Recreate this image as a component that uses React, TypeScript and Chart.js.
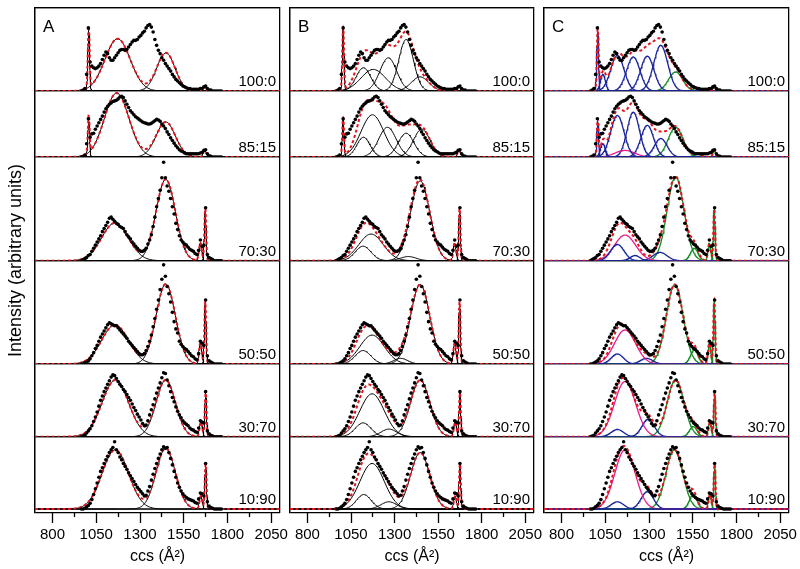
import React, { useEffect, useRef } from 'react';
import { Chart, registerables } from 'chart.js';
Chart.register(...registerables);

const FONT = "'Liberation Sans', Arial, Helvetica, sans-serif";

// ccs sampling positions of measured points (Å²)
const ccsGrid = [
  965, 975, 985, 995, 1005, 1015, 1025, 1035, 1045, 1055,
  1065, 1075, 1085, 1095, 1105, 1115, 1125, 1135, 1145, 1155,
  1165, 1175, 1185, 1195, 1205, 1215, 1225, 1235, 1245, 1255,
  1265, 1275, 1285, 1295, 1305, 1315, 1325, 1335, 1345, 1355,
  1365, 1375, 1385, 1395, 1405, 1415, 1425, 1435, 1445, 1455,
  1465, 1475, 1485, 1495, 1505, 1515, 1525, 1535, 1545, 1555,
  1565, 1575, 1585, 1595, 1605, 1615, 1625, 1635, 1645, 1655,
  1665, 1675, 1685, 1695, 1705, 1715, 1725, 1735, 1745, 1755,
  1765,
];

// measured intensities (fraction of each sub-panel's height)
const dots100_0 = [
  0, 0.01, 0.03, 0.2, 0.76, 0.35, 0.3, 0.28, 0.27, 0.28,
  0.3, 0.33, 0.38, 0.43, 0.47, 0.45, 0.4, 0.37, 0.37, 0.4,
  0.43, 0.46, 0.49, 0.5, 0.5, 0.49, 0.5, 0.53, 0.56, 0.59,
  0.61, 0.61, 0.62, 0.65, 0.67, 0.7, 0.72, 0.76, 0.79, 0.8,
  0.77, 0.71, 0.62, 0.55, 0.49, 0.45, 0.4, 0.37, 0.33, 0.3,
  0.27, 0.24, 0.2, 0.17, 0.14, 0.12, 0.1, 0.08, 0.06, 0.05,
  0.04, 0.03, 0.03, 0.02, 0.02, 0.02, 0.02, 0.02, 0.03, 0.03,
  0.05, 0.06, 0.03, 0.01, 0.01, 0, 0, 0, 0, 0,
  0,
];
const dots85_15 = [
  0, 0.01, 0.03, 0.2, 0.58, 0.3, 0.35, 0.36, 0.42, 0.47,
  0.52, 0.57, 0.62, 0.68, 0.73, 0.77, 0.8, 0.82, 0.84, 0.85,
  0.86, 0.88, 0.91, 0.92, 0.9, 0.85, 0.8, 0.75, 0.7, 0.67,
  0.64, 0.61, 0.59, 0.57, 0.55, 0.53, 0.52, 0.51, 0.5, 0.5,
  0.51, 0.53, 0.55, 0.57, 0.56, 0.54, 0.5, 0.47, 0.43, 0.38,
  0.34, 0.29, 0.25, 0.21, 0.17, 0.14, 0.11, 0.09, 0.08, 0.06,
  0.05, 0.05, 0.05, 0.05, 0.05, 0.05, 0.05, 0.05, 0.06, 0.07,
  0.1, 0.11, 0.05, 0.02, 0.01, 0, 0, 0, 0, 0,
  0,
];
const dots70_30 = [
  0, 0.01, 0.02, 0.03, 0.05, 0.06, 0.09, 0.12, 0.15, 0.18,
  0.21, 0.24, 0.28, 0.31, 0.34, 0.37, 0.41, 0.42, 0.4, 0.38,
  0.36, 0.35, 0.33, 0.32, 0.31, 0.28, 0.25, 0.23, 0.21, 0.18,
  0.16, 0.14, 0.12, 0.1, 0.09, 0.09, 0.1, 0.12, 0.16, 0.2,
  0.25, 0.33, 0.42, 0.52, 0.6, 0.68, 0.8, 0.95, 0.8, 0.72,
  0.67, 0.6, 0.52, 0.45, 0.36, 0.3, 0.24, 0.2, 0.18, 0.16,
  0.15, 0.13, 0.11, 0.1, 0.09, 0.07, 0.06, 0.1, 0.2, 0.14,
  0.15, 0.51, 0.06, 0.03, 0.02, 0.01, 0, 0, 0, 0,
  0,
];
const dots50_50 = [
  0, 0, 0.01, 0.02, 0.03, 0.05, 0.08, 0.11, 0.15, 0.18,
  0.22, 0.26, 0.29, 0.32, 0.35, 0.38, 0.4, 0.39, 0.38, 0.37,
  0.37, 0.35, 0.33, 0.31, 0.29, 0.27, 0.25, 0.22, 0.2, 0.18,
  0.16, 0.14, 0.12, 0.1, 0.09, 0.09, 0.1, 0.13, 0.17, 0.22,
  0.28, 0.36, 0.44, 0.53, 0.62, 0.72, 0.82, 0.96, 0.85, 0.75,
  0.68, 0.6, 0.5, 0.41, 0.34, 0.3, 0.22, 0.19, 0.17, 0.15,
  0.14, 0.12, 0.1, 0.08, 0.07, 0.05, 0.04, 0.1, 0.22, 0.2,
  0.18, 0.62, 0.08, 0.03, 0.02, 0.01, 0, 0, 0, 0,
  0,
];
const dots30_70 = [
  0, 0.01, 0.02, 0.05, 0.08, 0.11, 0.15, 0.21, 0.27, 0.34,
  0.42, 0.5, 0.56, 0.62, 0.67, 0.72, 0.77, 0.82, 0.85, 0.84,
  0.8, 0.76, 0.72, 0.69, 0.65, 0.62, 0.58, 0.54, 0.5, 0.45,
  0.4, 0.36, 0.31, 0.27, 0.23, 0.18, 0.15, 0.16, 0.22, 0.3,
  0.37, 0.44, 0.52, 0.6, 0.67, 0.74, 0.81, 0.88, 0.87, 0.78,
  0.7, 0.62, 0.54, 0.48, 0.41, 0.35, 0.3, 0.26, 0.22, 0.19,
  0.17, 0.15, 0.12, 0.1, 0.09, 0.07, 0.06, 0.12, 0.22, 0.2,
  0.19, 0.62, 0.08, 0.04, 0.02, 0.01, 0, 0, 0, 0,
  0,
];
const dots10_90 = [
  0, 0, 0.01, 0.03, 0.05, 0.08, 0.13, 0.2, 0.28, 0.36,
  0.44, 0.52, 0.57, 0.63, 0.68, 0.73, 0.78, 0.82, 0.85, 0.93,
  0.82, 0.78, 0.72, 0.68, 0.63, 0.59, 0.55, 0.5, 0.46, 0.42,
  0.38, 0.34, 0.3, 0.27, 0.24, 0.21, 0.18, 0.19, 0.25, 0.31,
  0.4, 0.48, 0.56, 0.63, 0.7, 0.76, 0.82, 0.86, 0.84, 0.85,
  0.78, 0.7, 0.61, 0.52, 0.44, 0.36, 0.3, 0.25, 0.21, 0.18,
  0.16, 0.14, 0.13, 0.12, 0.11, 0.09, 0.08, 0.14, 0.22, 0.21,
  0.18, 0.63, 0.1, 0.04, 0.02, 0.01, 0, 0, 0, 0,
  0,
];
const rowDots = [dots100_0, dots85_15, dots70_30, dots50_50, dots30_70, dots10_90];
const rowLabels = ['100:0', '85:15', '70:30', '50:50', '30:70', '10:90'];
const rowWeights = [83, 66, 103.7, 103.3, 72.7, 76.3];
const rowMin = [0, 0, 0, 0, 0, -0.055];

const xMajorTicks = [800, 1050, 1300, 1550, 1800, 2050];
const xMinorTicks = [925, 1175, 1425, 1675, 1925];

// Gaussian fit components: [centre ccs, height, sigma, colour]
type Comp = [number, number, number, string?];

const fitA_100_0: Comp[] = [[1007, 0.74, 5], [1172, 0.63, 72], [1448, 0.46, 52], [1670, 0.05, 8]];
const fitA_85_15: Comp[] = [[1007, 0.57, 5], [1167, 0.97, 70], [1447, 0.53, 55], [1670, 0.1, 9]];
const fitA_70_30: Comp[] = [[1157, 0.365, 76], [1447, 0.785, 55], [1645, 0.17, 8], [1673, 0.5, 5]];
const fitA_50_50: Comp[] = [[1157, 0.38, 76], [1447, 0.775, 55], [1645, 0.2, 8], [1673, 0.6, 5]];
const fitA_30_70: Comp[] = [[1159, 0.78, 75], [1447, 0.78, 55], [1648, 0.2, 8], [1675, 0.6, 5]];
const fitA_10_90: Comp[] = [[1159, 0.82, 75], [1447, 0.84, 55], [1648, 0.18, 8], [1675, 0.62, 5]];

const fitB_100_0: Comp[] = [[1005, 0.74, 5], [1121, 0.28, 42], [1178, 0.26, 70], [1264, 0.4, 48], [1366, 0.62, 42], [1446, 0.17, 50], [1670, 0.05, 8]];
const fitB_85_15: Comp[] = [[1005, 0.57, 5], [1121, 0.3, 38], [1173, 0.64, 65], [1259, 0.45, 50], [1366, 0.36, 45], [1456, 0.42, 48], [1670, 0.1, 9]];
const fitB_70_30: Comp[] = [[1119, 0.14, 45], [1165, 0.257, 70], [1379, 0.04, 45], [1447, 0.77, 55], [1645, 0.17, 8], [1673, 0.5, 5]];
const fitB_50_50: Comp[] = [[1119, 0.13, 45], [1171, 0.28, 70], [1334, 0.055, 40], [1447, 0.77, 55], [1645, 0.2, 8], [1673, 0.6, 5]];
const fitB_30_70: Comp[] = [[1119, 0.19, 45], [1171, 0.59, 70], [1267, 0.105, 45], [1447, 0.78, 55], [1648, 0.2, 8], [1675, 0.6, 5]];
const fitB_10_90: Comp[] = [[1123, 0.2, 42], [1171, 0.63, 70], [1267, 0.1, 45], [1447, 0.78, 55], [1648, 0.18, 8], [1675, 0.62, 5]];

const fitC_100_0: Comp[] = [[1007, 0.72, 5, 'b'], [1037, 0.2, 14, 'b'], [1119, 0.43, 38, 'b'], [1210, 0.41, 38, 'b'], [1290, 0.42, 38, 'b'], [1367, 0.55, 40, 'b'], [1452, 0.23, 40, 'g'], [1572, 0.04, 20, 'g'], [1673, 0.05, 8, 'g']];
const fitC_85_15: Comp[] = [[1007, 0.55, 5, 'b'], [1037, 0.2, 14, 'b'], [1119, 0.63, 38, 'b'], [1162, 0.1, 55, 'm'], [1210, 0.68, 35, 'b'], [1290, 0.48, 36, 'b'], [1367, 0.28, 36, 'b'], [1452, 0.45, 42, 'g'], [1575, 0.05, 20, 'g'], [1673, 0.1, 8, 'g']];
const fitC_70_30: Comp[] = [[1119, 0.157, 38, 'b'], [1163, 0.247, 60, 'm'], [1220, 0.05, 28, 'b'], [1363, 0.08, 40, 'b'], [1452, 0.81, 48, 'g'], [1559, 0.12, 22, 'g'], [1645, 0.17, 8, 'g'], [1673, 0.5, 5, 'g']];
const fitC_50_50: Comp[] = [[1119, 0.097, 35, 'b'], [1163, 0.33, 60, 'm'], [1286, 0.055, 35, 'b'], [1447, 0.77, 48, 'g'], [1559, 0.135, 22, 'g'], [1645, 0.2, 8, 'g'], [1673, 0.62, 5, 'g']];
const fitC_30_70: Comp[] = [[1119, 0.1, 35, 'b'], [1163, 0.76, 60, 'm'], [1295, 0.24, 35, 'b'], [1452, 0.78, 48, 'g'], [1553, 0.14, 22, 'g'], [1648, 0.2, 8, 'g'], [1675, 0.6, 5, 'g']];
const fitC_10_90: Comp[] = [[1119, 0.1, 35, 'b'], [1163, 0.82, 58, 'm'], [1290, 0.24, 35, 'b'], [1445, 0.82, 48, 'g'], [1553, 0.2, 22, 'g'], [1648, 0.2, 8, 'g'], [1675, 0.62, 5, 'g']];

const fitsA = [fitA_100_0, fitA_85_15, fitA_70_30, fitA_50_50, fitA_30_70, fitA_10_90];
const fitsB = [fitB_100_0, fitB_85_15, fitB_70_30, fitB_50_50, fitB_30_70, fitB_10_90];
const fitsC = [fitC_100_0, fitC_85_15, fitC_70_30, fitC_50_50, fitC_30_70, fitC_10_90];

const compColors: Record<string, string> = { k: '#000000', b: '#18229a', m: '#ec1a8c', g: '#138a22' };
const fitColor = '#e3141c';

const gauss = (c: Comp, x: number) => c[1] * Math.exp(-((x - c[0]) ** 2) / (2 * c[2] * c[2]));

function compXs(c: Comp): number[] {
  const xs: number[] = [700, 2100];
  for (let k = -50; k <= 50; k++) xs.push(c[0] + (k * c[2]) / 10);
  return xs.filter((x) => x >= 700 && x <= 2100).sort((a, b) => a - b);
}

const labelsPlugin = {
  id: 'panelLabels',
  afterDraw(chart: any) {
    const opts = chart.options.plugins.panelLabels;
    const ctx = chart.ctx;
    const area = chart.chartArea;
    ctx.save();
    ctx.fillStyle = '#000';
    ctx.textBaseline = 'alphabetic';
    ctx.textAlign = 'left';
    ctx.font = `17px ${FONT}`;
    ctx.fillText(opts.letter, area.left + 8, area.top + 24);
    ctx.font = `15px ${FONT}`;
    ctx.textAlign = 'right';
    rowLabels.forEach((lab, r) => {
      const s = chart.scales['y' + r];
      ctx.fillText(lab, area.right - 4, s.getPixelForValue(0) - 5);
    });
    ctx.restore();
  },
};

function makeChart(canvas: HTMLCanvasElement, letter: string, fits: Comp[][], withTitle: boolean, padLeft: number, padRight: number) {
  const dotSets: any[] = [];
  const sumSets: any[] = [];
  const compSets: any[] = [];
  fits.forEach((comps, r) => {
    const yAxisID = 'y' + r;
    dotSets.push({
      yAxisID,
      data: ccsGrid.map((x, i) => ({ x, y: rowDots[r][i] })),
      showLine: false,
      pointRadius: 1.8,
      pointBackgroundColor: '#000',
      pointBorderWidth: 0,
    });
    const allXs = new Set<number>();
    comps.forEach((c) => compXs(c).forEach((x) => allXs.add(x)));
    const sx = Array.from(allXs).sort((a, b) => a - b);
    sumSets.push({
      yAxisID,
      data: sx.map((x) => ({ x, y: comps.reduce((s, c) => s + gauss(c, x), 0) })),
      borderColor: fitColor,
      borderWidth: 2,
      borderDash: [3, 2.5],
      pointRadius: 0,
      tension: 0,
    });
    comps.forEach((c) => {
      compSets.push({
        yAxisID,
        data: compXs(c).map((x) => ({ x, y: gauss(c, x) })),
        borderColor: compColors[c[3] || 'k'],
        borderWidth: c[3] ? 1.3 : 1,
        pointRadius: 0,
        tension: 0,
      });
    });
  });

  const scales: any = {};
  // left boxes are laid out last-defined-first, so define the rows bottom-up
  for (let r = rowLabels.length - 1; r >= 0; r--) {
    scales['y' + r] = {
      axis: 'y',
      type: 'linear',
      position: 'left',
      stack: 'rows',
      stackWeight: rowWeights[r],
      min: rowMin[r],
      max: 1,
      ticks: { display: false },
      grid: { drawTicks: false, color: '#000', lineWidth: 1.3 },
      border: { display: true, color: '#000', width: 1.3 },
      afterBuildTicks: (s: any) => { s.ticks = [{ value: rowMin[r] }, { value: 1 }]; },
      afterFit: (s: any) => { s.width = 0; },
    };
  }
  if (withTitle) {
    scales.yt = {
      axis: 'y',
      type: 'linear',
      position: 'left',
      weight: 5,
      min: 0,
      max: 1,
      ticks: { display: false },
      grid: { display: false },
      border: { display: false },
      title: { display: true, text: 'Intensity (arbitrary units)', color: '#000', font: { family: FONT, size: 18 }, padding: 0 },
      afterFit: (s: any) => { s.width = 30; },
    };
  }
  scales.x = {
    type: 'linear',
    position: 'bottom',
    min: 700,
    max: 2100,
    afterBuildTicks: (s: any) => {
      s.ticks = [...xMajorTicks, ...xMinorTicks].sort((a, b) => a - b).map((v) => ({ value: v }));
    },
    ticks: {
      autoSkip: false,
      maxRotation: 0,
      padding: 3,
      color: '#000',
      font: { family: FONT, size: 15 },
      callback: (v: number) => (xMajorTicks.includes(v) ? String(v) : ''),
    },
    grid: {
      drawOnChartArea: false,
      drawTicks: true,
      tickLength: 10,
      tickColor: '#000',
      tickWidth: 1.3,
      tickBorderDash: (ctx: any) => (ctx.tick && xMajorTicks.includes(ctx.tick.value) ? [] : [4, 40]),
    },
    border: { display: false },
    title: { display: true, text: 'ccs (Å²)', color: '#000', font: { family: FONT, size: 16 }, padding: { top: 0, bottom: 3 } },
    afterFit: (s: any) => { s.height = 56; s.paddingLeft = 0; s.paddingRight = 0; },
  };
  scales.xf = {
    axis: 'x',
    type: 'linear',
    position: 'top',
    min: 700,
    max: 2100,
    ticks: { display: false },
    grid: { drawTicks: false, color: '#000', lineWidth: 1.3 },
    border: { display: true, color: '#000', width: 1.3 },
    afterBuildTicks: (s: any) => { s.ticks = [{ value: 700 }, { value: 2100 }]; },
    afterFit: (s: any) => { s.height = 0; s.paddingLeft = 0; s.paddingRight = 0; },
  };

  return new Chart(canvas, {
    type: 'line',
    data: { datasets: [...dotSets, ...sumSets, ...compSets] },
    options: {
      responsive: false,
      animation: false,
      devicePixelRatio: 1,
      layout: { padding: { left: padLeft, right: padRight, top: 8, bottom: 0 } },
      scales,
      plugins: {
        legend: { display: false },
        tooltip: { enabled: false },
        panelLabels: { letter },
      } as any,
    },
    plugins: [labelsPlugin],
  } as any);
}

export default function App() {
  const refA = useRef<HTMLCanvasElement>(null);
  const refB = useRef<HTMLCanvasElement>(null);
  const refC = useRef<HTMLCanvasElement>(null);
  useEffect(() => {
    const charts = [
      makeChart(refA.current!, 'A', fitsA, true, 5, 20),
      makeChart(refB.current!, 'B', fitsB, false, 20, 26),
      makeChart(refC.current!, 'C', fitsC, false, 20, 11),
    ];
    return () => charts.forEach((c) => c.destroy());
  }, []);
  return (
    <div style={{ position: 'fixed', left: 0, top: 0, width: 800, height: 569, background: '#fff', overflow: 'hidden' }}>
      <canvas ref={refA} width={300} height={569} style={{ position: 'absolute', left: 0, top: 0 }} />
      <canvas ref={refB} width={290} height={569} style={{ position: 'absolute', left: 270, top: 0 }} />
      <canvas ref={refC} width={276} height={569} style={{ position: 'absolute', left: 524, top: 0 }} />
    </div>
  );
}
